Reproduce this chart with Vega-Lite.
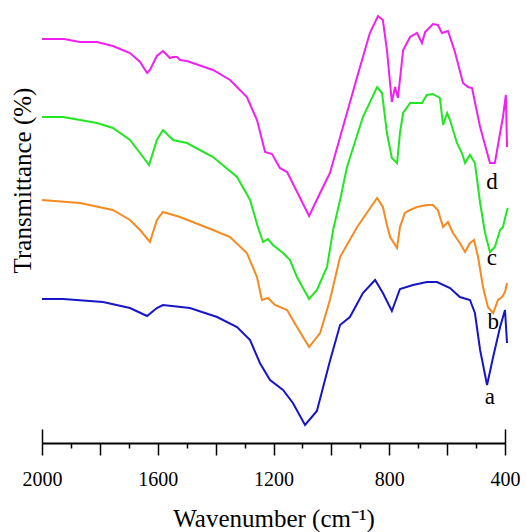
{
  "$schema": "https://vega.github.io/schema/vega-lite/v6.json",
  "width": 463,
  "height": 438,
  "autosize": {"type": "none"},
  "padding": {"left": 42, "top": 5, "right": 21, "bottom": 89},
  "background": "white",
  "config": {"view": {"stroke": null}},
  "datasets": {
    "spectra": [
      {"s":"d","wn":2000,"t":404},{"s":"d","wn":1924,"t":404},{"s":"d","wn":1869,"t":401},{"s":"d","wn":1810,"t":401},{"s":"d","wn":1755,"t":397},{"s":"d","wn":1696,"t":390},{"s":"d","wn":1661,"t":381},{"s":"d","wn":1637,"t":370},{"s":"d","wn":1627,"t":373},{"s":"d","wn":1603,"t":387},{"s":"d","wn":1582,"t":392},{"s":"d","wn":1568,"t":388},{"s":"d","wn":1558,"t":385},{"s":"d","wn":1547,"t":386},{"s":"d","wn":1533,"t":386},{"s":"d","wn":1523,"t":383},{"s":"d","wn":1499,"t":382},{"s":"d","wn":1409,"t":373},{"s":"d","wn":1350,"t":363},{"s":"d","wn":1292,"t":346},{"s":"d","wn":1257,"t":323},{"s":"d","wn":1229,"t":291},{"s":"d","wn":1205,"t":289},{"s":"d","wn":1178,"t":275},{"s":"d","wn":1153,"t":271},{"s":"d","wn":1077,"t":227},{"s":"d","wn":1039,"t":250},{"s":"d","wn":1005,"t":270},{"s":"d","wn":960,"t":316},{"s":"d","wn":911,"t":366},{"s":"d","wn":867,"t":410},{"s":"d","wn":839,"t":427},{"s":"d","wn":822,"t":423},{"s":"d","wn":808,"t":393},{"s":"d","wn":791,"t":341},{"s":"d","wn":780,"t":356},{"s":"d","wn":770,"t":345},{"s":"d","wn":752,"t":393},{"s":"d","wn":728,"t":406},{"s":"d","wn":704,"t":410},{"s":"d","wn":687,"t":400},{"s":"d","wn":676,"t":411},{"s":"d","wn":649,"t":419},{"s":"d","wn":632,"t":418},{"s":"d","wn":618,"t":410},{"s":"d","wn":597,"t":412},{"s":"d","wn":573,"t":391},{"s":"d","wn":545,"t":360},{"s":"d","wn":528,"t":356},{"s":"d","wn":514,"t":355},{"s":"d","wn":486,"t":316},{"s":"d","wn":452,"t":280},{"s":"d","wn":435,"t":280},{"s":"d","wn":417,"t":310},{"s":"d","wn":407,"t":326},{"s":"d","wn":397,"t":348},{"s":"d","wn":393,"t":296},
      {"s":"c","wn":2000,"t":326},{"s":"c","wn":1927,"t":326},{"s":"c","wn":1810,"t":320},{"s":"c","wn":1755,"t":315},{"s":"c","wn":1696,"t":303},{"s":"c","wn":1651,"t":286},{"s":"c","wn":1630,"t":278},{"s":"c","wn":1603,"t":303},{"s":"c","wn":1582,"t":313},{"s":"c","wn":1547,"t":303},{"s":"c","wn":1499,"t":300},{"s":"c","wn":1409,"t":286},{"s":"c","wn":1326,"t":266},{"s":"c","wn":1281,"t":243},{"s":"c","wn":1254,"t":216},{"s":"c","wn":1236,"t":201},{"s":"c","wn":1219,"t":204},{"s":"c","wn":1202,"t":198},{"s":"c","wn":1167,"t":190},{"s":"c","wn":1143,"t":183},{"s":"c","wn":1119,"t":166},{"s":"c","wn":1077,"t":144},{"s":"c","wn":1050,"t":153},{"s":"c","wn":1015,"t":176},{"s":"c","wn":994,"t":213},{"s":"c","wn":970,"t":243},{"s":"c","wn":946,"t":276},{"s":"c","wn":891,"t":326},{"s":"c","wn":842,"t":356},{"s":"c","wn":825,"t":350},{"s":"c","wn":808,"t":310},{"s":"c","wn":791,"t":285},{"s":"c","wn":773,"t":280},{"s":"c","wn":763,"t":310},{"s":"c","wn":752,"t":330},{"s":"c","wn":728,"t":340},{"s":"c","wn":687,"t":340},{"s":"c","wn":670,"t":348},{"s":"c","wn":649,"t":349},{"s":"c","wn":625,"t":345},{"s":"c","wn":614,"t":318},{"s":"c","wn":600,"t":330},{"s":"c","wn":590,"t":323},{"s":"c","wn":566,"t":300},{"s":"c","wn":549,"t":290},{"s":"c","wn":538,"t":280},{"s":"c","wn":521,"t":288},{"s":"c","wn":504,"t":280},{"s":"c","wn":486,"t":240},{"s":"c","wn":469,"t":210},{"s":"c","wn":452,"t":191},{"s":"c","wn":435,"t":196},{"s":"c","wn":417,"t":213},{"s":"c","wn":407,"t":216},{"s":"c","wn":393,"t":233},{"s":"c","wn":390,"t":235},
      {"s":"b","wn":2000,"t":243},{"s":"b","wn":1869,"t":240},{"s":"b","wn":1755,"t":233},{"s":"b","wn":1696,"t":223},{"s":"b","wn":1661,"t":213},{"s":"b","wn":1627,"t":201},{"s":"b","wn":1603,"t":223},{"s":"b","wn":1582,"t":231},{"s":"b","wn":1523,"t":226},{"s":"b","wn":1409,"t":213},{"s":"b","wn":1350,"t":206},{"s":"b","wn":1292,"t":190},{"s":"b","wn":1257,"t":166},{"s":"b","wn":1240,"t":143},{"s":"b","wn":1219,"t":145},{"s":"b","wn":1195,"t":138},{"s":"b","wn":1153,"t":133},{"s":"b","wn":1119,"t":116},{"s":"b","wn":1077,"t":96},{"s":"b","wn":1039,"t":110},{"s":"b","wn":1005,"t":143},{"s":"b","wn":970,"t":186},{"s":"b","wn":911,"t":216},{"s":"b","wn":842,"t":245},{"s":"b","wn":822,"t":236},{"s":"b","wn":808,"t":218},{"s":"b","wn":797,"t":206},{"s":"b","wn":773,"t":195},{"s":"b","wn":763,"t":216},{"s":"b","wn":746,"t":230},{"s":"b","wn":728,"t":233},{"s":"b","wn":704,"t":236},{"s":"b","wn":670,"t":238},{"s":"b","wn":649,"t":238},{"s":"b","wn":632,"t":233},{"s":"b","wn":614,"t":216},{"s":"b","wn":597,"t":221},{"s":"b","wn":580,"t":210},{"s":"b","wn":556,"t":200},{"s":"b","wn":538,"t":191},{"s":"b","wn":521,"t":200},{"s":"b","wn":507,"t":203},{"s":"b","wn":493,"t":186},{"s":"b","wn":476,"t":156},{"s":"b","wn":459,"t":136},{"s":"b","wn":441,"t":130},{"s":"b","wn":424,"t":143},{"s":"b","wn":410,"t":146},{"s":"b","wn":400,"t":151},{"s":"b","wn":393,"t":160},
      {"s":"a","wn":2000,"t":144},{"s":"a","wn":1927,"t":144},{"s":"a","wn":1789,"t":141},{"s":"a","wn":1696,"t":135},{"s":"a","wn":1637,"t":127},{"s":"a","wn":1603,"t":135},{"s":"a","wn":1582,"t":138},{"s":"a","wn":1489,"t":135},{"s":"a","wn":1395,"t":126},{"s":"a","wn":1326,"t":116},{"s":"a","wn":1281,"t":103},{"s":"a","wn":1247,"t":80},{"s":"a","wn":1212,"t":63},{"s":"a","wn":1167,"t":53},{"s":"a","wn":1133,"t":40},{"s":"a","wn":1091,"t":18},{"s":"a","wn":1050,"t":32},{"s":"a","wn":1005,"t":82},{"s":"a","wn":970,"t":118},{"s":"a","wn":936,"t":126},{"s":"a","wn":891,"t":150},{"s":"a","wn":849,"t":163},{"s":"a","wn":822,"t":150},{"s":"a","wn":791,"t":132},{"s":"a","wn":763,"t":154},{"s":"a","wn":718,"t":158},{"s":"a","wn":670,"t":161},{"s":"a","wn":635,"t":161},{"s":"a","wn":590,"t":155},{"s":"a","wn":556,"t":146},{"s":"a","wn":521,"t":143},{"s":"a","wn":504,"t":130},{"s":"a","wn":486,"t":93},{"s":"a","wn":462,"t":58},{"s":"a","wn":441,"t":86},{"s":"a","wn":417,"t":116},{"s":"a","wn":400,"t":133},{"s":"a","wn":393,"t":100}
    ],
    "labels": [
      {"s":"a","wn":452,"t":46},
      {"s":"b","wn":441,"t":121},
      {"s":"c","wn":445,"t":185},
      {"s":"d","wn":445,"t":261}
    ]
  },
  "resolve": {"axis": {"x": "independent"}},
  "layer": [
    {
      "data": {"name": "spectra"},
      "mark": {"type": "line", "strokeWidth": 2, "interpolate": "linear"},
      "encoding": {
        "x": {
          "field": "wn", "type": "quantitative",
          "scale": {"domain": [2000, 400], "nice": false, "zero": false},
          "axis": {
            "orient": "bottom",
            "values": [2000,1800,1600,1400,1200,1000,800,600,400],
            "tickCount": 40,
            "format": "d",
            "labelExpr": "datum.value % 400 === 0 ? datum.label : ''",
            "grid": false,
            "domainColor": "black", "domainWidth": 2,
            "tickColor": "black", "tickWidth": 1.5,
            "tickSize": 12,
            "labelFont": "Liberation Serif", "labelFontSize": 20, "labelColor": "black",
            "labelPadding": 14, "labelFlush": false, "labelOverlap": false,
            "title": "Wavenumber (cm⁻¹)",
            "titleFont": "Liberation Serif", "titleFontSize": 25, "titleFontWeight": "normal", "titleColor": "black",
            "titleBaseline": "alphabetic", "titleY": 83
          }
        },
        "y": {
          "field": "t", "type": "quantitative",
          "scale": {"domain": [0, 438], "nice": false, "zero": false},
          "axis": {
            "domain": false, "ticks": false, "labels": false, "grid": false,
            "title": "Transmittance (%)",
            "titleFont": "Liberation Serif", "titleFontSize": 25, "titleFontWeight": "normal", "titleColor": "black",
            "titleAngle": -90, "titleBaseline": "middle", "titleAlign": "center",
            "titleX": -20, "titleY": 175
          }
        },
        "color": {
          "field": "s", "type": "nominal",
          "scale": {"domain": ["a","b","c","d"], "range": ["#1616c8","#f58a20","#22e622","#f020f0"]},
          "legend": null
        }
      }
    },
    {
      "data": {"name": "labels"},
      "mark": {"type": "text", "font": "Liberation Serif", "fontSize": 23, "color": "black", "align": "center", "baseline": "middle"},
      "encoding": {
        "x": {
          "field": "wn", "type": "quantitative",
          "axis": {
            "orient": "bottom",
            "values": [1900,1700,1500,1300,1100,900,700,500],
            "tickCount": 40,
            "domain": false, "labels": false, "grid": false, "title": null,
            "tickColor": "black", "tickWidth": 1.5, "tickSize": 5
          }
        },
        "y": {"field": "t", "type": "quantitative"},
        "text": {"field": "s"}
      }
    },
    {
      "data": {"name": "labels"},
      "mark": {"type": "text", "opacity": 0},
      "encoding": {
        "x": {
          "field": "wn", "type": "quantitative",
          "axis": {
            "orient": "bottom",
            "values": [2000,400],
            "domain": false, "labels": false, "grid": false, "title": null,
            "tickColor": "black", "tickWidth": 1.5, "tickSize": -14
          }
        },
        "y": {"field": "t", "type": "quantitative"},
        "text": {"field": "s"}
      }
    }
  ]
}
